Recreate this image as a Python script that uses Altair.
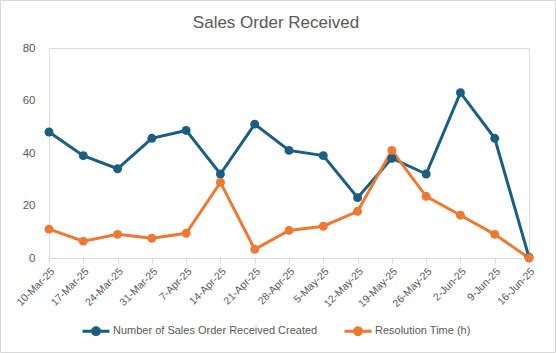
import altair as alt
import pandas as pd

dates = ["10-Mar-25", "17-Mar-25", "24-Mar-25", "31-Mar-25", "7-Apr-25", "14-Apr-25",
         "21-Apr-25", "28-Apr-25", "5-May-25", "12-May-25", "19-May-25", "26-May-25",
         "2-Jun-25", "9-Jun-25", "16-Jun-25"]
orders = [48, 39, 34, 45.6, 48.6, 32, 51, 41, 39, 23, 38, 32, 63, 45.6, 0.3]
resolution = [11, 6.4, 9, 7.5, 9.4, 28.8, 3.3, 10.5, 12.1, 17.8, 41, 23.5, 16.3, 9, 0]

s1 = "Number of Sales Order Received Created"
s2 = "Resolution Time (h)"
title_text = "Sales Order Received"

rows = []
for d, v in zip(dates, orders):
    rows.append({"date": d, "value": v, "series": s1})
for d, v in zip(dates, resolution):
    rows.append({"date": d, "value": v, "series": s2})
df = pd.DataFrame(rows)

font = "Liberation Sans Narrow, Liberation Sans, Arial"
grey = "#595959"

color = alt.Color("series:N", sort=[s1, s2],
                  scale=alt.Scale(domain=[s1, s2], range=["#1b5e7f", "#ec7a34"]),
                  legend=alt.Legend(title=None, orient="none", direction="horizontal",
                                    legendX=32, legendY=268, columnPadding=20,
                                    symbolType="M-1,0L1,0M0.26,0A0.26,0.26 0 1 1 -0.26,0A0.26,0.26 0 1 1 0.26,0Z",
                                    symbolSize=729, symbolStrokeWidth=3,
                                    labelFont=font, labelFontSize=11, labelColor=grey,
                                    labelOffset=2, labelLimit=400))

x = alt.X("date:O", sort=dates, title=None,
          scale=alt.Scale(padding=0),
          axis=alt.Axis(labelAngle=-45, labelFont=font, labelFontSize=10.5, labelColor=grey,
                        domainColor="#d9d9d9", tickColor="#d9d9d9", tickSize=5,
                        labelPadding=3))
y = alt.Y("value:Q", title=None,
          scale=alt.Scale(domain=[0, 80], nice=False),
          axis=alt.Axis(values=[0, 20, 40, 60, 80], grid=False, domain=False, ticks=False,
                        labelFont=font, labelFontSize=11.5, labelColor=grey, labelPadding=14))

base = alt.Chart(df)
lines = base.mark_line(strokeWidth=3).encode(x=x, y=y, color=color)
points = base.mark_point(filled=True, size=80, opacity=1).encode(x=x, y=y, color=color)

border = alt.Chart(pd.DataFrame({"a": [0]})).mark_rect(
    fill=None, stroke="#d9d9d9", strokeWidth=1, clip=False
).encode(x=alt.value(-48.5), x2=alt.value(506.5), y=alt.value(-47.5), y2=alt.value(304.5))

title = alt.Chart(pd.DataFrame({"t": [title_text]})).mark_text(
    font=font, fontSize=17, color=grey, align="center", baseline="alphabetic", clip=False
).encode(text="t:N", x=alt.value(227), y=alt.value(-20))

chart = alt.layer(border, lines, points, title).properties(
    width=480, height=210,
    autosize=alt.AutoSizeParams(type="none"),
    padding={"left": 49, "top": 48, "right": 27, "bottom": 95},
).configure_view(stroke=None).configure(background="white")

chart.save("out.html", embed_options={"renderer": "svg", "actions": False})
